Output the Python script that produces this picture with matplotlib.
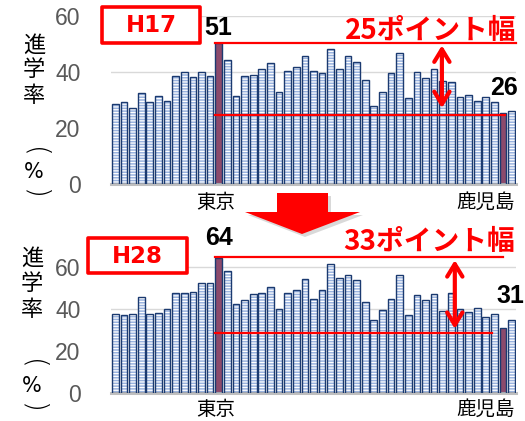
import matplotlib
matplotlib.use('Agg')
import matplotlib.pyplot as plt
import numpy as np
from matplotlib.patches import Polygon, Rectangle
from matplotlib.transforms import blended_transform_factory

plt.rcParams['font.family'] = ['Noto Sans CJK JP', 'DejaVu Sans']
plt.rcParams['hatch.linewidth'] = 0.9
plt.rcParams['hatch.color'] = 'white'

# 都道府県
pref = ['北海道', '青森', '岩手', '宮城', '秋田', '山形', '福島', '茨城', '栃木', '群馬',
        '埼玉', '千葉', '東京', '神奈川', '新潟', '富山', '石川', '福井', '山梨', '長野',
        '岐阜', '静岡', '愛知', '三重', '滋賀', '京都', '大阪', '兵庫', '奈良', '和歌山',
        '鳥取', '島根', '岡山', '広島', '山口', '徳島', '香川', '愛媛', '高知', '福岡',
        '佐賀', '長崎', '熊本', '大分', '宮崎', '鹿児島', '沖縄']

# 大学進学率 H17 (%)
rate_h17 = [28.6, 29.2, 27.0, 32.6, 29.4, 31.4, 29.8, 38.7, 39.9, 38.3,
            39.9, 38.6, 50.5, 44.3, 31.5, 38.7, 38.9, 41.1, 43.1, 33.0,
            40.4, 41.9, 45.8, 40.4, 39.8, 48.2, 41.0, 45.7, 43.7, 37.1,
            27.9, 32.7, 39.8, 46.9, 30.6, 40.1, 38.0, 41.0, 36.8, 36.5,
            31.2, 31.8, 29.6, 31.0, 29.2, 25.5, 26.1]

# 大学進学率 H28 (%)
rate_h28 = [37.8, 37.0, 37.7, 45.9, 37.7, 38.0, 39.8, 47.8, 47.8, 48.1,
            52.3, 52.3, 64.1, 57.9, 42.6, 44.2, 47.0, 47.5, 50.7, 40.2,
            47.8, 48.9, 54.2, 44.9, 49.0, 61.4, 54.7, 56.1, 53.7, 43.5,
            34.6, 39.3, 45.0, 56.1, 37.0, 46.6, 44.2, 47.0, 38.9, 47.5,
            40.0, 38.8, 40.6, 36.2, 37.4, 30.8, 35.0]

highlight = ['東京', '鹿児島']
yticks = [0, 20, 40, 60]

W, H = 525, 421
fig = plt.figure(figsize=(W / 100, H / 100), dpi=100)


def fx(px):
    return px / W


def fy(py):
    return 1 - py / H


ax1 = fig.add_axes([fx(111), fy(184), 405 / W, 168 / H])
ax2 = fig.add_axes([fx(111), fy(393), 405 / W, 147 / H])

navy = '#1b3a70'
blue = '#9ab3df'
mauve = '#8c4a6c'
red = '#ff0000'

x = np.arange(len(pref))
i_tok = pref.index('東京')
i_kag = pref.index('鹿児島')
is_hl = np.array([p in highlight for p in pref])


def draw_bars(ax, vals, ymax):
    vals = np.array(vals)
    # 通常の県: 横縞
    ax.bar(x[~is_hl], vals[~is_hl], width=0.78, color=blue, edgecolor='white',
           linewidth=0, hatch='------', zorder=2)
    # 東京・鹿児島
    ax.bar(x[is_hl], vals[is_hl], width=0.78, color=mauve, linewidth=0, zorder=2)
    ax.bar(x, vals, width=0.78, fill=False, edgecolor=navy, linewidth=1.0, zorder=3)
    ax.set_xlim(-0.5, len(pref) - 0.5)
    ax.set_ylim(0, ymax)
    ax.set_yticks(yticks)
    ax.tick_params(axis='y', length=0, pad=22, labelsize=16.5, labelcolor='#595959')
    for lab in ax.get_yticklabels():
        lab.set_fontfamily('Liberation Sans')
    ax.set_xticks([])
    for s in ['top', 'right', 'left']:
        ax.spines[s].set_visible(False)
    ax.spines['bottom'].set_color('#bfbfbf')
    ax.spines['bottom'].set_linewidth(2.2)
    ax.yaxis.grid(True, color='#d9d9d9', linewidth=1)
    ax.set_axisbelow(True)
    tr = blended_transform_factory(ax.transData, ax.transAxes)
    ax.text(i_tok - 0.3, -0.11, '東京', transform=tr, ha='center', va='center', fontsize=14)
    ax.text(46.4, -0.11, '鹿児島', transform=tr, ha='right', va='center', fontsize=14)


draw_bars(ax1, rate_h17, 60)
draw_bars(ax2, rate_h28, 70)

arrow_style = '<->,head_length=0.9,head_width=0.55'

# 差の表示 H17
t1 = rate_h17[i_tok]
ax1.plot([i_tok - 0.45, 46.5], [t1, t1], color=red, lw=1.6, zorder=5, clip_on=False)
ax1.plot([i_tok - 0.45, 45.2], [24.7, 24.7], color=red, lw=1.6, zorder=5)
ax1.annotate('', xy=(37.9, 26.1), xytext=(37.9, t1),
             arrowprops=dict(arrowstyle=arrow_style, color=red, lw=3), zorder=6)
ax1.text(i_tok, 55.7, '51', ha='center', va='center', fontsize=18,
         fontweight='bold', family='Liberation Sans', clip_on=False)
ax1.text(45.1, 34.3, '26', ha='center', va='center', fontsize=18,
         fontweight='bold', family='Liberation Sans')
ax1.text(46.6, 54.6, '25ポイント幅', ha='right', va='center', fontsize=20,
         fontweight='bold', color=red, clip_on=False)

# 差の表示 H28
ax2.plot([i_tok - 0.45, 45.0], [64.6, 64.6], color=red, lw=1.6, zorder=5)
ax2.plot([i_tok - 0.45, 43.7], [28.6, 28.6], color=red, lw=1.6, zorder=5)
ax2.annotate('', xy=(39.4, 29.2), xytext=(39.4, 64.6),
             arrowprops=dict(arrowstyle=arrow_style, color=red, lw=3), zorder=6)
ax2.text(i_tok, 73.8, '64', ha='center', va='center', fontsize=18,
         fontweight='bold', family='Liberation Sans', clip_on=False)
ax2.text(45.8, 46.2, '31', ha='center', va='center', fontsize=18,
         fontweight='bold', family='Liberation Sans')
ax2.text(46.4, 71.9, '33ポイント幅', ha='right', va='center', fontsize=20,
         fontweight='bold', color=red, clip_on=False)

# 年度ラベル
for (x0, y0, x1, y1, lab) in [(102, 7, 200, 43, 'H17'), (88, 238, 187, 273, 'H28')]:
    fig.add_artist(Rectangle((fx(x0), fy(y1)), (x1 - x0) / W, (y1 - y0) / H,
                             transform=fig.transFigure, fc='white', ec=red, lw=2.6,
                             joinstyle='round', zorder=10))
    fig.text(fx((x0 + x1) / 2), fy((y0 + y1) / 2 + 1), lab, ha='center', va='center',
             fontsize=16.5, fontweight='bold', color=red, family='DejaVu Sans', zorder=11)

# 縦軸ラベル（縦書き）
for (cx, ys) in [(34, [45, 70, 95, 152, 172, 194]), (32, [258, 284, 310, 364, 386, 408])]:
    for ch, yy in zip(['進', '学', '率'], ys[:3]):
        fig.text(fx(cx), fy(yy), ch, ha='center', va='center', fontsize=16)
    fig.text(fx(cx), fy(ys[3]), '(', ha='center', va='center', fontsize=20,
             rotation=-90, rotation_mode='anchor', family='DejaVu Sans',
             fontweight='light')
    fig.text(fx(cx), fy(ys[4]), '%', ha='center', va='center', fontsize=15,
             family='DejaVu Sans')
    fig.text(fx(cx), fy(ys[5]), ')', ha='center', va='center', fontsize=20,
             rotation=-90, rotation_mode='anchor', family='DejaVu Sans',
             fontweight='light')

# 中央の矢印
shadow = [(280, 196), (331, 196), (331, 215), (363, 215), (305, 237), (248, 215), (280, 215)]
arrow = [(277, 193), (328, 193), (328, 212), (360, 212), (302, 234), (245, 212), (277, 212)]
fig.add_artist(Polygon([(fx(a), fy(b)) for a, b in shadow], closed=True,
                       transform=fig.transFigure, fc='#000000', alpha=0.15, lw=0, zorder=8))
fig.add_artist(Polygon([(fx(a), fy(b)) for a, b in arrow], closed=True,
                       transform=fig.transFigure, fc=red, lw=0, zorder=9))

fig.savefig('out.png', dpi=100, facecolor='white')
